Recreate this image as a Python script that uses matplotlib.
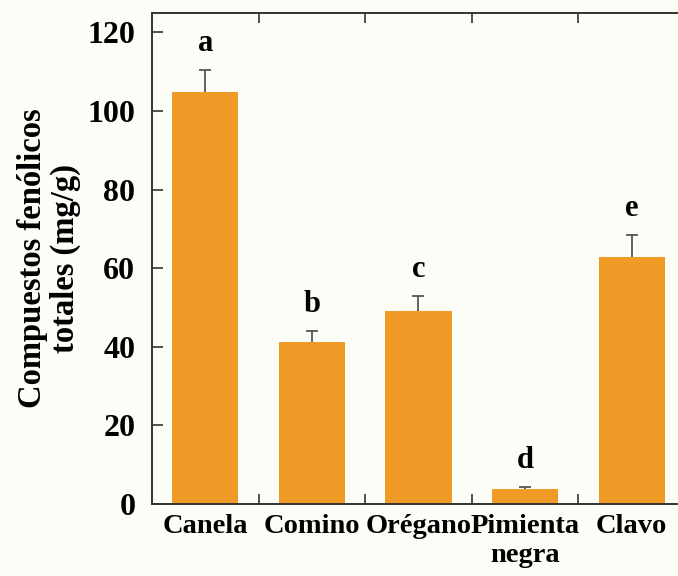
import matplotlib
matplotlib.use("Agg")
import matplotlib.pyplot as plt
import numpy as np

categories = ["Canela", "Comino", "Orégano", "Pimienta\nnegra", "Clavo"]
values = [104.8, 41.2, 49.1, 3.9, 62.8]
errors = [5.5, 2.8, 3.8, 0.3, 5.6]
letters = ["a", "b", "c", "d", "e"]
yticks = [0, 20, 40, 60, 80, 100, 120]

plt.rcParams['font.family'] = ['Liberation Serif', 'DejaVu Serif']
plt.rcParams['font.weight'] = 'bold'

bg = '#fdfdf8'
fig = plt.figure(figsize=(6.78, 5.76), dpi=100, facecolor=bg)
ax = fig.add_axes([0.2242, 0.125, 0.786, 0.853], facecolor=bg)

x = np.arange(len(categories))
vals = np.array(values)
errs = np.array(errors)
ax.bar(x, vals, width=0.62, color='#f09a28', zorder=2)
ax.vlines(x, vals, vals + errs, color='#555555', linewidth=1.3, zorder=3)
ax.plot(x, vals + errs, linestyle='none', marker='_', markersize=9,
        markeredgewidth=1.3, color='#555555', zorder=3)

for xi, v, e, l in zip(x, values, errors, letters):
    ax.annotate(l, (xi, v + e), xytext=(0, 9), textcoords='offset points',
                ha='center', va='bottom', fontsize=22, fontweight='bold')

ax.set_xlim(-0.5, len(categories) - 0.5)
ax.set_ylim(0, 125)
ax.set_yticks(yticks)
ax.set_yticklabels([str(t) for t in yticks], fontsize=23, fontweight='bold')
ax.set_xticks(x)
ax.set_xticklabels(categories, fontsize=20.5, fontweight='bold', linespacing=1.2)
ax.tick_params(axis='x', which='major', length=0, pad=7)
ax.set_xticks(np.arange(len(categories) - 1) + 0.5, minor=True)
ax.tick_params(axis='x', which='minor', direction='in', length=7, width=1.2,
               top=True, bottom=True, color='#333333')
ax.tick_params(axis='y', direction='in', length=8, width=1.2, pad=12, color='#333333')

for s in ax.spines.values():
    s.set_linewidth(1.4)
    s.set_color('#333333')

ax.set_ylabel("Compuestos fenólicos\ntotales (mg/g)", fontsize=23.5,
              fontweight='bold', linespacing=1.05, labelpad=5)

fig.savefig("out.png", dpi=100, facecolor=bg)
